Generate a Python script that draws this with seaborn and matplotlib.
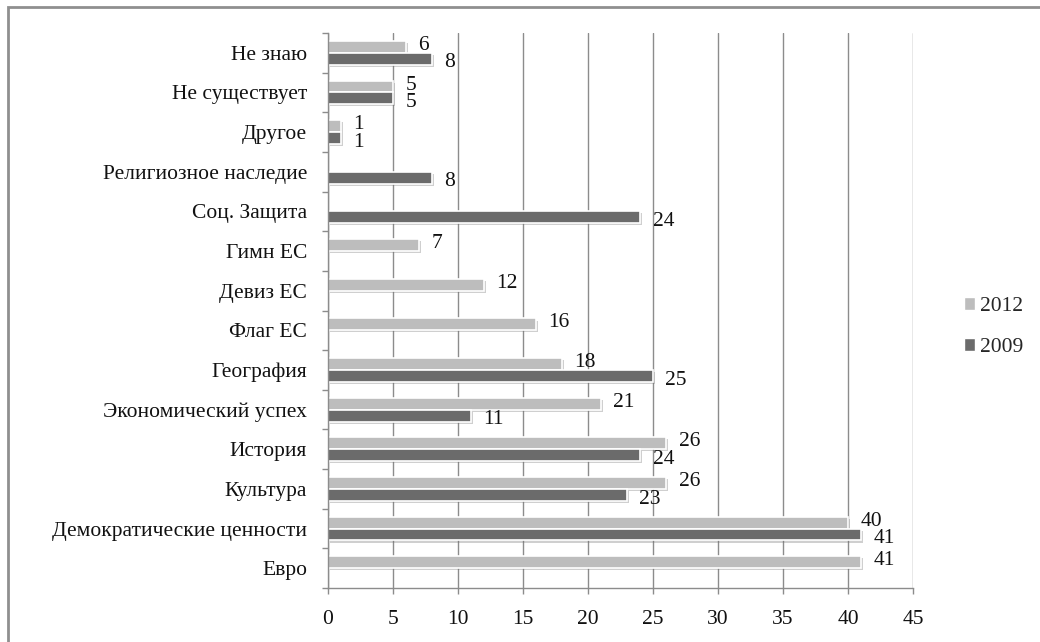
import numpy as np
import pandas as pd
import seaborn as sns
import matplotlib.pyplot as plt
from matplotlib import patheffects
from matplotlib.patches import Rectangle, Patch
from matplotlib.ticker import FixedLocator

# Data (top to bottom as shown in the chart)
categories = ["Не знаю", "Не существует", "Другое", "Религиозное наследие",
              "Соц. Защита", "Гимн ЕС", "Девиз ЕС", "Флаг ЕС", "География",
              "Экономический успех", "История", "Культура",
              "Демократические ценности", "Евро"]
values_2012 = [6, 5, 1, None, None, 7, 12, 16, 18, 21, 26, 26, 40, 41]
values_2009 = [8, 5, 1, 8, 24, None, None, None, 25, 11, 24, 23, 41, None]
years = ["2012", "2009"]
colors = {"2012": "#bdbdbd", "2009": "#6b6b6b"}

rows = []
for cat, v12, v09 in zip(categories, values_2012, values_2009):
    rows.append({"cat": cat, "year": "2012", "val": v12})
    rows.append({"cat": cat, "year": "2009", "val": v09})
df = pd.DataFrame(rows).dropna()

sns.set_style("white")
plt.rcParams["font.family"] = ["Liberation Serif", "DejaVu Serif"]
FS = 15.5

fig = plt.figure(figsize=(10.4, 6.42), dpi=100)
ax = fig.add_axes([328 / 1040, 1 - 588 / 642, (913 - 328) / 1040, (588 - 33) / 642])

sns.barplot(data=df, x="val", y="cat", hue="year", order=categories,
            hue_order=years, palette=colors, orient="h", width=0.6,
            edgecolor="white", linewidth=1.2, ax=ax, legend=False)

shadow = [patheffects.SimplePatchShadow(offset=(1.5, -1.5), shadow_rgbFace="#777777", alpha=0.35),
          patheffects.Normal()]
for container, year in zip(ax.containers, years):
    dy = 1 if year == "2012" else -3
    for bar in container:
        w = bar.get_width()
        if np.isnan(w):
            continue
        bar.set_path_effects(shadow)
        ax.annotate(f"{int(w)}", (w, bar.get_y() + bar.get_height() / 2),
                    xytext=(9, dy), textcoords="offset points",
                    ha="left", va="center", fontsize=FS, color="#111111")

ax.set_xlim(0, 45)
ax.set_xticks(range(0, 46, 5))
ax.set_ylim(len(categories) - 0.5, -0.5)
ax.set_xlabel("")
ax.set_ylabel("")

ax.grid(axis="x", color="#8c8c8c", linewidth=1)
ax.set_axisbelow(True)
for side in ["top", "right"]:
    ax.spines[side].set_visible(False)
for side in ["left", "bottom"]:
    ax.spines[side].set_color("#8c8c8c")
    ax.spines[side].set_linewidth(1)

ax.yaxis.set_minor_locator(FixedLocator(np.arange(-0.5, len(categories), 1)))
ax.tick_params(axis="y", which="major", length=0, pad=15, labelsize=FS)
ax.tick_params(axis="y", which="minor", length=4.5, color="#8c8c8c", width=1, direction="out")
ax.tick_params(axis="x", which="major", length=4, color="#8c8c8c", width=1,
               direction="out", pad=12, labelsize=FS)
ax.tick_params(left=True, bottom=True, which="both")
for lbl in ax.get_yticklabels() + ax.get_xticklabels():
    lbl.set_color("#111111")

handles = [Patch(facecolor=colors[y], edgecolor="white") for y in years]
fig.legend(handles, years, loc="center left", bbox_to_anchor=(955 / 1040, 1 - 327 / 642),
           frameon=False, fontsize=FS, handlelength=0.55, handleheight=0.55,
           handletextpad=0.2, labelspacing=1.0, borderaxespad=0)

# outer chart frame
fig.patches.append(Rectangle((8 / 1040, -0.1), 1.2, 1 - 7 / 642 + 0.1,
                             transform=fig.transFigure, fill=False,
                             edgecolor="#8f8f8f", linewidth=2))

fig.savefig("out.png", dpi=100)
